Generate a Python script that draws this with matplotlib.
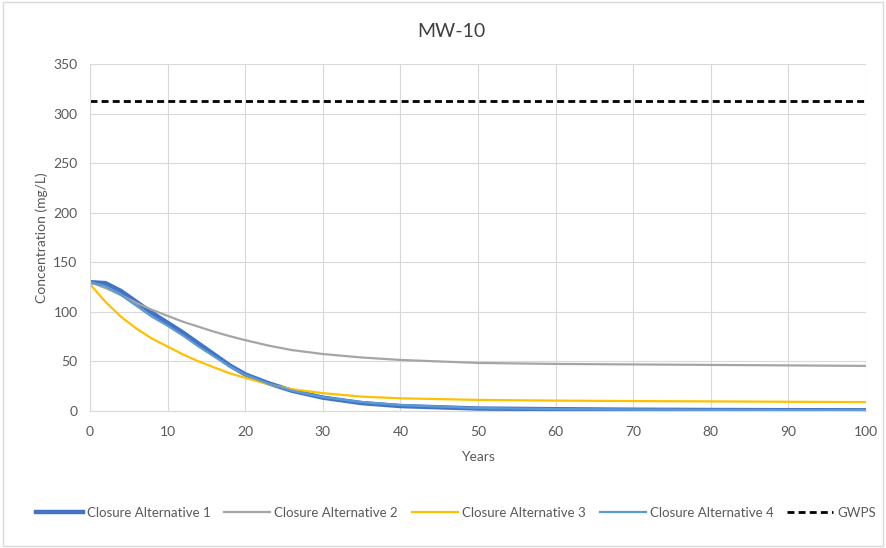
import matplotlib as mpl
import matplotlib.pyplot as plt

mpl.rcParams['font.family'] = ['Lato', 'DejaVu Sans']

years = [0, 2, 4, 6, 8, 10, 12, 14, 16, 18, 20, 23, 26, 30, 35, 40, 50, 60, 70, 80, 90, 100]
alt1 = [130, 129, 121, 110, 99, 89, 79, 68, 57, 46, 37, 28, 20.5, 13.5, 8, 5, 2.5, 1.8, 1.3, 1.0, 0.8, 0.7]
alt2 = [130, 124, 117, 109, 102, 96, 90, 85, 80, 75.5, 71.5, 66, 61.5, 57.5, 54, 51.5, 48.5, 47.5, 47, 46.5, 46, 45.5]
alt3 = [128, 110, 95, 83, 73, 65, 57, 50, 44, 38, 33.5, 27, 22, 18, 14.5, 12.8, 11.2, 10.5, 10, 9.7, 9.3, 9]
alt4 = [130, 126, 117, 106, 95, 86, 76, 65, 55, 45, 36.5, 27.5, 20.5, 14, 9, 6, 3, 2, 1.5, 1.2, 1.0, 0.9]
gwps = 313

fig = plt.figure(figsize=(8.86, 5.48), dpi=100)
ax = fig.add_axes([0.1016, 0.25, 0.8758, 0.633])

ax.plot(years, alt1, color='#4472C4', lw=3.2, label='Closure Alternative 1', solid_joinstyle='round')
ax.plot(years, alt2, color='#A5A5A5', lw=1.6, label='Closure Alternative 2', solid_joinstyle='round')
ax.plot(years, alt3, color='#FFC000', lw=1.6, label='Closure Alternative 3', solid_joinstyle='round')
ax.plot(years, alt4, color='#5B9BD5', lw=1.6, label='Closure Alternative 4', solid_joinstyle='round')
ax.plot([0, 100], [gwps, gwps], color='black', lw=2, ls=(0, (2.5, 1.5)), label='GWPS')

ax.set_xlim(0, 100)
ax.set_ylim(0, 350)
ax.set_xticks(range(0, 101, 10))
ax.set_yticks(range(0, 351, 50))
ax.grid(color='#D9D9D9', lw=0.8)
ax.set_axisbelow(True)
for s in ['top', 'right']:
    ax.spines[s].set_visible(False)
for s in ['left', 'bottom']:
    ax.spines[s].set_color('#D9D9D9')
ax.tick_params(length=0, colors='#595959', labelsize=10)
ax.tick_params(axis='y', pad=9)
ax.tick_params(axis='x', pad=11)
ax.set_xlabel('Years', color='#595959', fontsize=10, labelpad=9)
ax.set_ylabel('Concentration (mg/L)', color='#595959', fontsize=10)
fig.text(0.509, 0.943, 'MW-10', color='#404040', fontsize=14, ha='center', va='center')

fig.legend(loc='center', bbox_to_anchor=(0.515, 0.064), ncol=5, frameon=False,
           fontsize=9.5, labelcolor='#595959', handlelength=3.5, columnspacing=1.05, handletextpad=0.3)

fig.patches.append(mpl.patches.Rectangle((0.003, 0.003), 0.994, 0.994, transform=fig.transFigure,
                                         fill=False, edgecolor='#D9D9D9', lw=1))
fig.savefig('out.png', dpi=100)
